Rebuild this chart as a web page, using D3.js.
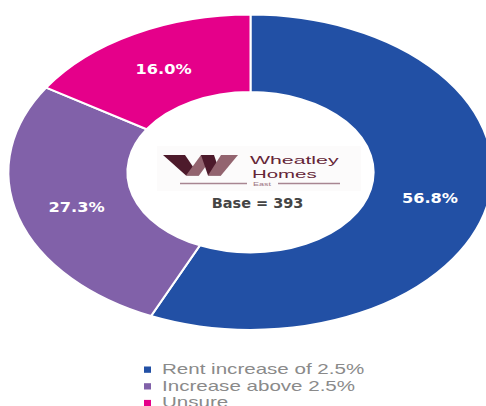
<!DOCTYPE html>
<html>
<head>
<meta charset="utf-8">
<script src="https://cdn.jsdelivr.net/npm/d3@7"></script>
<style>
body{margin:0;background:#fff;}
svg{display:block;}
</style>
</head>
<body>
<svg width="486" height="406"></svg>
<script>
var categories=["Rent increase of 2.5%","Increase above 2.5%","Unsure"];
var values=[56.8,27.3,16.0];
var labels=["56.8%","27.3%","16.0%"];
var colors=["#2250A5","#8161A9","#E5008A"];
var baseText="Base = 393";

var svg=d3.select('svg');
var cx=250.5, cy=172.3, rOut=157.7, rIn=80.2, sx=1.535;

// stretch text sideways like the squashed original picture
function stretch(sel,k){
    sel.each(function(){
        var w=this.getComputedTextLength();
        d3.select(this).attr('textLength',w*k).attr('lengthAdjust','spacingAndGlyphs');
    });
}

var color=d3.scaleOrdinal().domain(categories).range(colors);
var pie=d3.pie().sort(null).value(function(d){return d.value;});
var arc=d3.arc().innerRadius(rIn).outerRadius(rOut);

var rows=categories.map(function(c,i){return {cat:c,value:values[i],label:labels[i]};});
var slices=pie(rows);

var ring=svg.append('g')
    .attr('transform','translate('+cx+','+cy+') scale('+sx+',1)');

ring.selectAll('path')
    .data(slices)
    .enter()
    .append('path')
    .attr('d',arc)
    .style('fill',function(d){return color(d.data.cat);})
    .style('stroke','#fff')
    .style('stroke-width',2)
    .attr('vector-effect','non-scaling-stroke');

svg.selectAll('text.pct')
    .data(slices)
    .enter()
    .append('text')
    .attr('class','pct')
    .attr('x',function(d){return cx+arc.centroid(d)[0]*sx+1;})
    .attr('y',function(d){return cy+arc.centroid(d)[1]+6;})
    .attr('text-anchor','middle')
    .style('font-family','"DejaVu Sans", sans-serif')
    .style('font-weight','bold')
    .style('font-size','14.2px')
    .style('fill','#fff')
    .text(function(d){return d.data.label;})
    .call(stretch,1.14);

// logo in the hole
var logo=svg.append('g');
logo.append('rect')
    .attr('x',157).attr('y',146).attr('width',204).attr('height',45)
    .style('fill','#fcfbfb');

var dark='#4D1A2B', light='#93646F';
var wParts=[
    [[163,155],[185,155],[199,175.5],[186,175.5],dark],
    [[186,175.5],[199,175.5],[214,155],[201,155],light],
    [[201,155],[214,155],[221,175.5],[208,175.5],dark],
    [[208,175.5],[221,175.5],[238,155],[221,155],light]
];
wParts.forEach(function(p){
    logo.append('polygon')
        .attr('points',p.slice(0,4).map(function(q){return q.join(',');}).join(' '))
        .style('fill',p[4]);
});

var logoTxt=logo.append('g')
    .style('font-family','"Liberation Sans", Arial, sans-serif')
    .style('font-size','11.8px')
    .style('fill','#642537');
logoTxt.append('text').attr('x',250).attr('y',164).text('Wheatley').call(stretch,1.8);
logoTxt.append('text').attr('x',252).attr('y',177.5).text('Homes').call(stretch,1.73);

logo.append('line').attr('x1',180).attr('x2',247).attr('y1',183.5).attr('y2',183.5)
    .style('stroke','#A88692').style('stroke-width',1.3);
logo.append('line').attr('x1',278).attr('x2',340).attr('y1',183.5).attr('y2',183.5)
    .style('stroke','#A88692').style('stroke-width',1.3);
logo.append('text').attr('x',262).attr('y',186).attr('text-anchor','middle')
    .style('font-family','"Liberation Sans", Arial, sans-serif')
    .style('font-size','6px').style('fill','#9C7482')
    .text('East').call(stretch,1.5);

svg.append('text')
    .attr('x',257.6).attr('y',208.3)
    .attr('text-anchor','middle')
    .style('font-family','"DejaVu Sans", sans-serif')
    .style('font-weight','bold')
    .style('font-size','13.8px')
    .style('fill','#454545')
    .text(baseText)
    .call(stretch,1.05);

// legend
var legend=svg.selectAll('g.leg')
    .data(categories)
    .enter()
    .append('g')
    .attr('class','leg')
    .attr('transform',function(d,i){return 'translate(144,'+(366.5+i*16.7)+')';});

legend.append('rect')
    .attr('width',7).attr('height',6.3)
    .style('fill',function(d){return color(d);});

legend.append('text')
    .attr('x',18).attr('y',7.5)
    .style('font-family','"Liberation Sans", Arial, sans-serif')
    .style('font-size','15px')
    .style('fill','#8a8a8a')
    .text(function(d){return d;})
    .call(stretch,1.37);
</script>
</body>
</html>
